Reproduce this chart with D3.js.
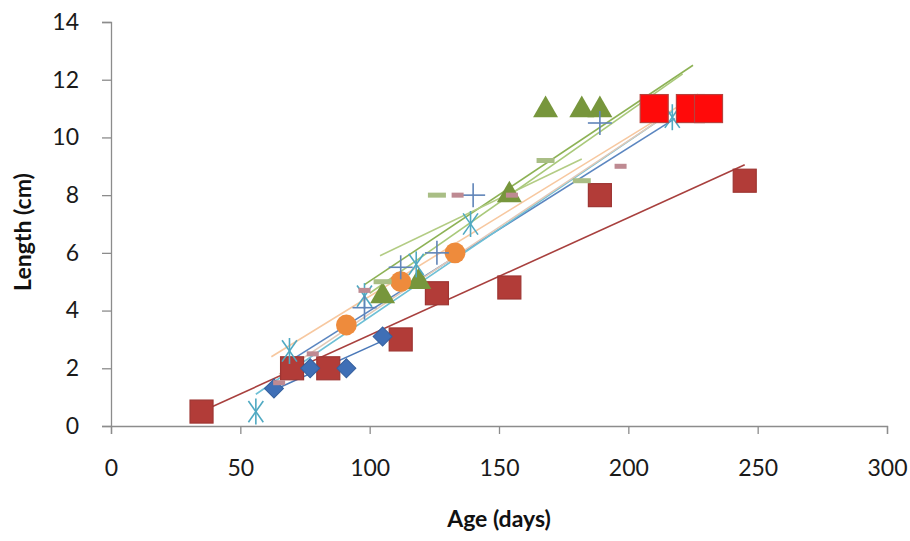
<!DOCTYPE html>
<html><head><meta charset="utf-8">
<script src="https://cdnjs.cloudflare.com/ajax/libs/d3/7.8.5/d3.min.js"></script>
<style>body{margin:0;background:#fff}</style>
</head><body>
<svg id="c" width="910" height="541"></svg>
<script>
// ---- data ----
const xTicks = [0, 50, 100, 150, 200, 250, 300];
const yTicks = [0, 2, 4, 6, 8, 10, 12, 14];

const diamondAge = [63, 77, 91, 105];
const diamondLen = [1.3, 2, 2, 3.1];
const squareAge = [35, 70, 84, 112, 126, 154, 189, 245];
const squareLen = [0.5, 2, 2, 3, 4.6, 4.8, 8, 8.5];
const triangleAge = [105, 119, 154, 168, 182, 189];
const triangleLen = [4.5, 5, 8, 10.95, 10.95, 10.95];
const asteriskAge = [56, 69, 98, 118, 139, 217];
const asteriskLen = [0.5, 2.6, 4.5, 5.6, 7.0, 10.7];
const circleAge = [91, 112, 133];
const circleLen = [3.5, 5, 6];
const plusAge = [98, 112, 126, 140, 189];
const plusLen = [4.1, 5.5, 6, 8, 10.5];
const dashGreenAge = [105, 126, 168, 182];
const dashGreenLen = [5, 8, 9.2, 8.5];
const dashMauveAge = [65, 78, 98, 134, 155, 197];
const dashMauveLen = [1.5, 2.5, 4.7, 8, 8, 9];
const bigRedAge = [210, 224, 231];
const bigRedLen = [11, 11, 11];

// trend lines: start/end age and length
const trendStartAge = [35, 63, 98, 104, 62, 70, 56, 65, 100];
const trendStartLen = [0.5, 1.25, 4.9, 5.9, 2.4, 2.3, 1.1, 1.8, 4.6];
const trendEndAge   = [245, 105, 225, 182, 227, 218, 217, 212, 221];
const trendEndLen   = [9.05, 2.95, 12.5, 9.25, 11.5, 10.65, 10.9, 10.6, 12.2];
const trendColors   = ["#A8403E", "#4A78B8", "#8DB255", "#B3CC84", "#F7C8A0", "#5B86C0", "#6EC0D6", "#E2C9B8", "#A9C97A"];

// ---- layout ----
const svg = d3.select("#c");
const x = d3.scaleLinear().domain([0, 300]).range([111, 887]);
const y = d3.scaleLinear().domain([0, 14]).range([426, 22]);
const axisColor = "#8c8c8c";
const font = "Lato, 'Open Sans', sans-serif";

// axes
const xAxis = svg.append("g").attr("transform", "translate(0,426)")
  .call(d3.axisBottom(x).tickValues(xTicks).tickSize(8).tickPadding(26).tickFormat(d3.format("d")));
const yAxis = svg.append("g").attr("transform", "translate(111,0)")
  .call(d3.axisLeft(y).tickValues(yTicks).tickSize(9).tickPadding(23).tickFormat(d3.format("d")));
[xAxis, yAxis].forEach(a => {
  a.select(".domain").attr("stroke", axisColor).attr("stroke-width", 1.3);
  a.selectAll(".tick line").attr("stroke", axisColor).attr("stroke-width", 1.3);
  a.selectAll(".tick text").attr("fill", "#1a1a1a").style("font-family", font).style("font-size", "23px");
});

svg.append("text").attr("x", 499).attr("y", 527).attr("text-anchor", "middle")
  .style("font-family", font).style("font-size", "23px").style("font-weight", "bold").attr("fill", "#111")
  .text("Age (days)");
svg.append("text").attr("transform", "translate(31,232) rotate(-90)").attr("text-anchor", "middle")
  .style("font-family", font).style("font-size", "23px").style("font-weight", "bold").attr("fill", "#111")
  .text("Length (cm)");

// trend lines
const gT = svg.append("g");
trendStartAge.forEach((a, i) => {
  gT.append("line")
    .attr("x1", x(a)).attr("y1", y(trendStartLen[i]))
    .attr("x2", x(trendEndAge[i])).attr("y2", y(trendEndLen[i]))
    .attr("stroke", trendColors[i]).attr("stroke-width", 1.6);
});

const zip = (a, b) => a.map((v, i) => [v, b[i]]);
const gM = svg.append("g");

function symbols(data, type, size, fill, stroke, rot) {
  gM.selectAll(null).data(data).enter().append("path")
    .attr("d", d3.symbol().type(type).size(size))
    .attr("transform", d => `translate(${x(d[0])},${y(d[1])})${rot ? " rotate(" + rot + ")" : ""}`)
    .attr("fill", fill).attr("stroke", stroke || "none").attr("stroke-width", 1);
}
function squares(data, side, fill, stroke) {
  gM.selectAll(null).data(data).enter().append("rect")
    .attr("x", d => x(d[0]) - side / 2).attr("y", d => y(d[1]) - side / 2)
    .attr("width", side).attr("height", side)
    .attr("fill", fill).attr("stroke", stroke).attr("stroke-width", 1.2);
}
function dashes(data, w, h, fill) {
  gM.selectAll(null).data(data).enter().append("rect")
    .attr("x", d => x(d[0]) - w / 2).attr("y", d => y(d[1]) - h / 2)
    .attr("width", w).attr("height", h).attr("fill", fill);
}
function lineMarker(data, arms, color, half) {
  const g = gM.selectAll(null).data(data).enter().append("g")
    .attr("transform", d => `translate(${x(d[0])},${y(d[1])})`);
  arms.forEach(ang => {
    const r = ang * Math.PI / 180;
    g.append("line")
      .attr("x1", -half * Math.cos(r)).attr("y1", -half * Math.sin(r))
      .attr("x2", half * Math.cos(r)).attr("y2", half * Math.sin(r))
      .attr("stroke", color).attr("stroke-width", 1.6);
  });
}

squares(zip(squareAge, squareLen), 23, "#B23C38", "#9E3532");
symbols(zip(diamondAge, diamondLen), d3.symbolSquare, 180, "#3F6FB6", "#35609E", 45);
symbols(zip(triangleAge, triangleLen), d3.symbolTriangle, 270, "#77963C", "none");
symbols(zip(circleAge, circleLen), d3.symbolCircle, 340, "#EE8B3C", "none");
lineMarker(zip(asteriskAge, asteriskLen), [55, 125, 90], "#4FA9C2", 13);
lineMarker(zip(plusAge, plusLen), [0, 90], "#5F84B8", 12);
dashes(zip(dashGreenAge, dashGreenLen), 18, 5, "#A9BE85");
dashes(zip(dashMauveAge, dashMauveLen), 12, 5, "#BE8A92");
squares(zip(bigRedAge, bigRedLen), 28, "#FF0A0A", "#B8403C");
</script>
</body></html>
